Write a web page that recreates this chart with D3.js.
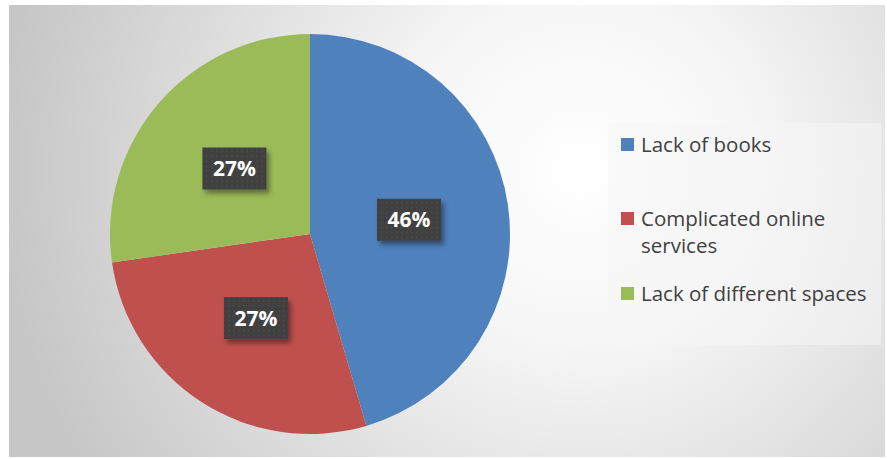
<!DOCTYPE html>
<html lang="en">
<head>
  <meta charset="UTF-8">
  <title>Pie</title>
  <script src="https://d3js.org/d3.v7.min.js"></script>
  <style>
    body { margin: 0; background: #fff; }
  </style>
</head>
<body>
  <script>
    // data (slice angles: about 45.5 / 27.3 / 27.3)
    var categories = ["Lack of books", "Complicated online services", "Lack of different spaces"];
    var values = [45.45, 27.27, 27.27];
    var labels = ["46%", "27%", "27%"];
    var colors = ["#4f81bd", "#c0504d", "#9bbb59"];
    // legend lines (wrapped like the original)
    var legendLines = [["Lack of books"], ["Complicated online", "services"], ["Lack of different spaces"]];

    var width = 887, height = 459;
    var cx = 310, cy = 234, radius = 200;

    var svg = d3.select("body").append("svg")
      .attr("width", width)
      .attr("height", height);

    var defs = svg.append("defs");
    var bg = defs.append("radialGradient")
      .attr("id", "bg")
      .attr("gradientUnits", "userSpaceOnUse")
      .attr("cx", 580).attr("cy", 170).attr("r", 580);
    bg.append("stop").attr("offset", "0").attr("stop-color", "#ffffff");
    bg.append("stop").attr("offset", "0.3").attr("stop-color", "#f6f6f6");
    bg.append("stop").attr("offset", "1").attr("stop-color", "#c6c6c6");

    var dots = defs.append("pattern")
      .attr("id", "dots")
      .attr("patternUnits", "userSpaceOnUse")
      .attr("width", 5).attr("height", 5);
    dots.append("rect").attr("width", 5).attr("height", 5).attr("fill", "#404040");
    dots.append("rect").attr("x", 2).attr("y", 2).attr("width", 1.5).attr("height", 1.5).attr("fill", "#4d4d4d");

    var shadow = defs.append("filter").attr("id", "shadow")
      .attr("x", "-20%").attr("y", "-20%").attr("width", "150%").attr("height", "160%");
    shadow.append("feDropShadow")
      .attr("dx", 3).attr("dy", 4).attr("stdDeviation", 2.5)
      .attr("flood-color", "#000").attr("flood-opacity", 0.4);

    // chart area
    svg.append("rect")
      .attr("x", 9).attr("y", 5)
      .attr("width", 876).attr("height", 452)
      .attr("fill", "url(#bg)");

    var pie = d3.pie().sort(null).value(function (d) { return d; });
    var arc = d3.arc().innerRadius(0).outerRadius(radius);
    var arcs = pie(values);

    var g = svg.append("g").attr("transform", "translate(" + cx + "," + cy + ")");

    g.selectAll("path.slice")
      .data(arcs)
      .enter().append("path")
      .attr("class", "slice")
      .attr("d", arc)
      .attr("fill", function (d, i) { return colors[i]; });

    // data labels
    var labelArc = d3.arc().innerRadius(radius * 0.5).outerRadius(radius * 0.5);
    var lab = g.selectAll("g.lab")
      .data(arcs)
      .enter().append("g")
      .attr("class", "lab")
      .attr("transform", function (d) {
        var c = labelArc.centroid(d);
        return "translate(" + c[0] + "," + c[1] + ")";
      });

    lab.append("rect")
      .attr("x", -32).attr("y", -21)
      .attr("width", 64).attr("height", 42)
      .attr("fill", "url(#dots)")
      .attr("filter", "url(#shadow)");

    lab.append("text")
      .attr("text-anchor", "middle")
      .attr("dy", "0.36em")
      .attr("fill", "#fff")
      .style("font-family", "'Open Sans', 'DejaVu Sans', sans-serif")
      .style("font-weight", "bold")
      .style("font-size", "21px")
      .text(function (d, i) { return labels[i]; });

    // legend
    var legend = svg.append("g");
    legend.append("rect")
      .attr("x", 608).attr("y", 123)
      .attr("width", 273).attr("height", 222)
      .attr("fill", "#f5f5f5")
      .attr("fill-opacity", 0.55);

    var legendY = [145, 219, 294];
    var items = legend.selectAll("g.item")
      .data(categories)
      .enter().append("g")
      .attr("class", "item")
      .attr("transform", function (d, i) { return "translate(621," + legendY[i] + ")"; });

    items.append("rect")
      .attr("x", 0).attr("y", -7)
      .attr("width", 13).attr("height", 13)
      .attr("fill", function (d, i) { return colors[i]; });

    items.append("text")
      .attr("x", 20)
      .attr("fill", "#404040")
      .style("font-family", "'Open Sans', 'DejaVu Sans', sans-serif")
      .style("font-size", "20.5px")
      .selectAll("tspan")
      .data(function (d, i) { return legendLines[i]; })
      .enter().append("tspan")
      .attr("x", 20)
      .attr("dy", function (d, i) { return i === 0 ? "0.36em" : "1.3em"; })
      .text(function (d) { return d; });
  </script>
</body>
</html>
